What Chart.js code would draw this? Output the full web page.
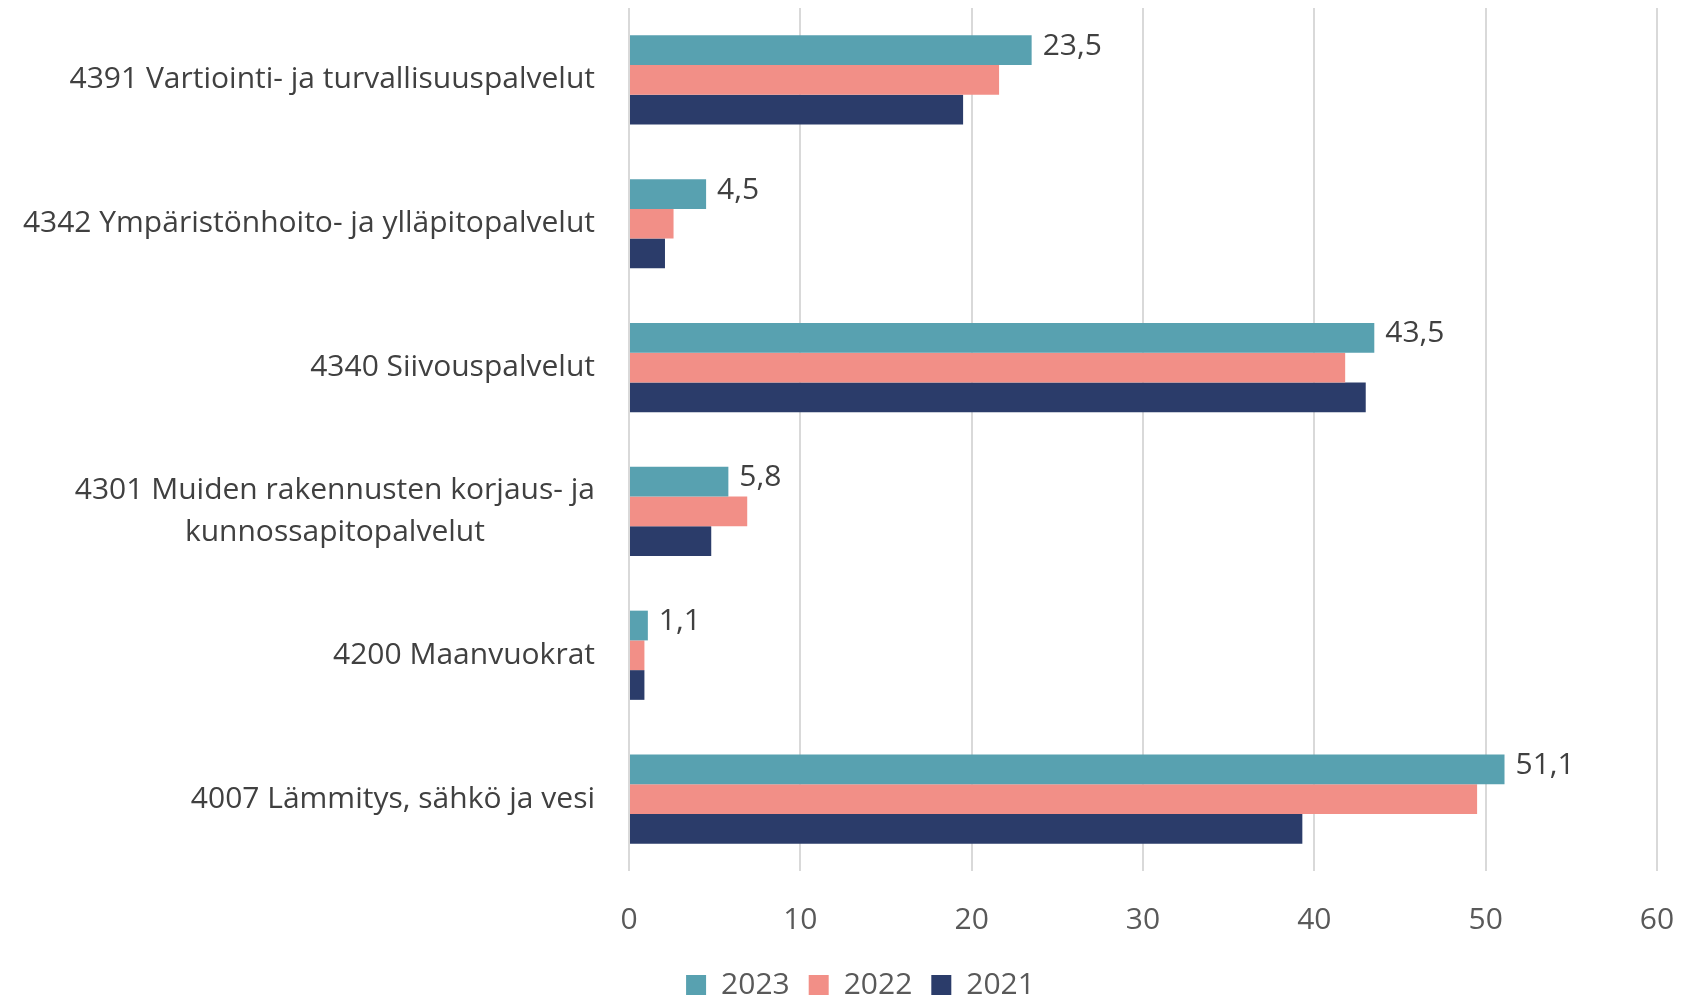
<!DOCTYPE html>
<html>
<head>
<meta charset="utf-8">
<script src="https://cdn.jsdelivr.net/npm/chart.js@4"></script>
<style>
  body { margin: 0; background: #fff; }
  #wrap { width: 1683px; height: 997px; }
</style>
</head>
<body>
<div id="wrap"><canvas id="my-chart" width="1683" height="997"></canvas></div>
<script>
const categories = [
    ['4391 Vartiointi- ja turvallisuuspalvelut'],
    ['4342 Ympäristönhoito- ja ylläpitopalvelut'],
    ['4340 Siivouspalvelut'],
    ['4301 Muiden rakennusten korjaus- ja', 'kunnossapitopalvelut'],
    ['4200 Maanvuokrat'],
    ['4007 Lämmitys, sähkö ja vesi']
];
const years = ['2023', '2022', '2021'];
const values2023 = [23.5, 4.5, 43.5, 5.8, 1.1, 51.1];
const values2022 = [21.6, 2.6, 41.8, 6.9, 0.9, 49.5];
const values2021 = [19.5, 2.1, 43.0, 4.8, 0.9, 39.3];
const xTicks = [0, 10, 20, 30, 40, 50, 60];

const colors = ['#58a1b0', '#f28f87', '#2b3c6a'];
const FONT = "'Open Sans', 'Noto Sans', sans-serif";

// category labels, right aligned block, lines centred inside the block (like Excel)
const yLabels = {
    id: 'yLabels',
    afterDraw(chart) {
        const ctx = chart.ctx, y = chart.scales.y;
        const right = chart.chartArea.left - 34;
        ctx.save();
        ctx.font = '30px ' + FONT;
        ctx.fillStyle = '#404040';
        ctx.textBaseline = 'middle';
        ctx.textAlign = 'center';
        categories.forEach((lines, i) => {
            const cy = y.getPixelForValue(i);
            const w = Math.max(...lines.map(l => ctx.measureText(l).width));
            const lh = 42;
            lines.forEach((l, k) => {
                ctx.fillText(l, right - w / 2, cy + (k - (lines.length - 1) / 2) * lh);
            });
        });
        ctx.restore();
    }
};

// value labels for 2023 only
const valueLabels = {
    id: 'valueLabels',
    afterDatasetsDraw(chart) {
        const ctx = chart.ctx;
        const meta = chart.getDatasetMeta(0);
        ctx.save();
        ctx.font = '30px ' + FONT;
        ctx.fillStyle = '#404040';
        ctx.textBaseline = 'middle';
        ctx.textAlign = 'left';
        meta.data.forEach((bar, i) => {
            ctx.fillText(values2023[i].toFixed(1).replace('.', ','), bar.x + 11, bar.y - 4);
        });
        ctx.restore();
    }
};

// nudge the legend a bit to the right, the original sits off centre
const legendShift = {
    id: 'legendShift',
    afterLayout(chart) {
        chart.legend.left += 19;
        chart.legend.right += 19;
    }
};

let myChart = document.querySelector('#my-chart').getContext('2d');
const chart = new Chart(myChart, {
    type: 'bar',
    data: {
        labels: categories,
        datasets: [
            { label: years[0], data: values2023, backgroundColor: colors[0] },
            { label: years[1], data: values2022, backgroundColor: colors[1] },
            { label: years[2], data: values2021, backgroundColor: colors[2] }
        ]
    },
    options: {
        indexAxis: 'y',
        responsive: false,
        animation: false,
        categoryPercentage: 0.62,
        barPercentage: 1,
        layout: { padding: { top: 8, right: 0, left: 0, bottom: -13 } },
        plugins: {
            tooltip: { enabled: false },
            legend: {
                position: 'bottom',
                labels: {
                    font: { family: FONT, size: 30 },
                    color: '#595959',
                    boxWidth: 20,
                    boxHeight: 20,
                    padding: 19
                }
            }
        },
        scales: {
            x: {
                min: 0,
                max: 60,
                afterBuildTicks(scale) { scale.ticks = xTicks.map(v => ({ value: v })); },
                afterFit(scale) {
                    scale.height = 80;
                    scale.paddingRight = 26;
                    scale.paddingLeft = 0;
                },
                border: { display: false },
                grid: { color: '#d9d9d9', lineWidth: 2, drawTicks: false },
                ticks: {
                    padding: 31,
                    color: '#595959',
                    font: { family: FONT, size: 30 },
                    maxRotation: 0
                }
            },
            y: {
                afterFit(scale) { scale.width = 629; },
                border: { display: false },
                grid: { display: false },
                ticks: { display: false }
            }
        }
    },
    plugins: [yLabels, valueLabels, legendShift]
});
</script>
</body>
</html>
